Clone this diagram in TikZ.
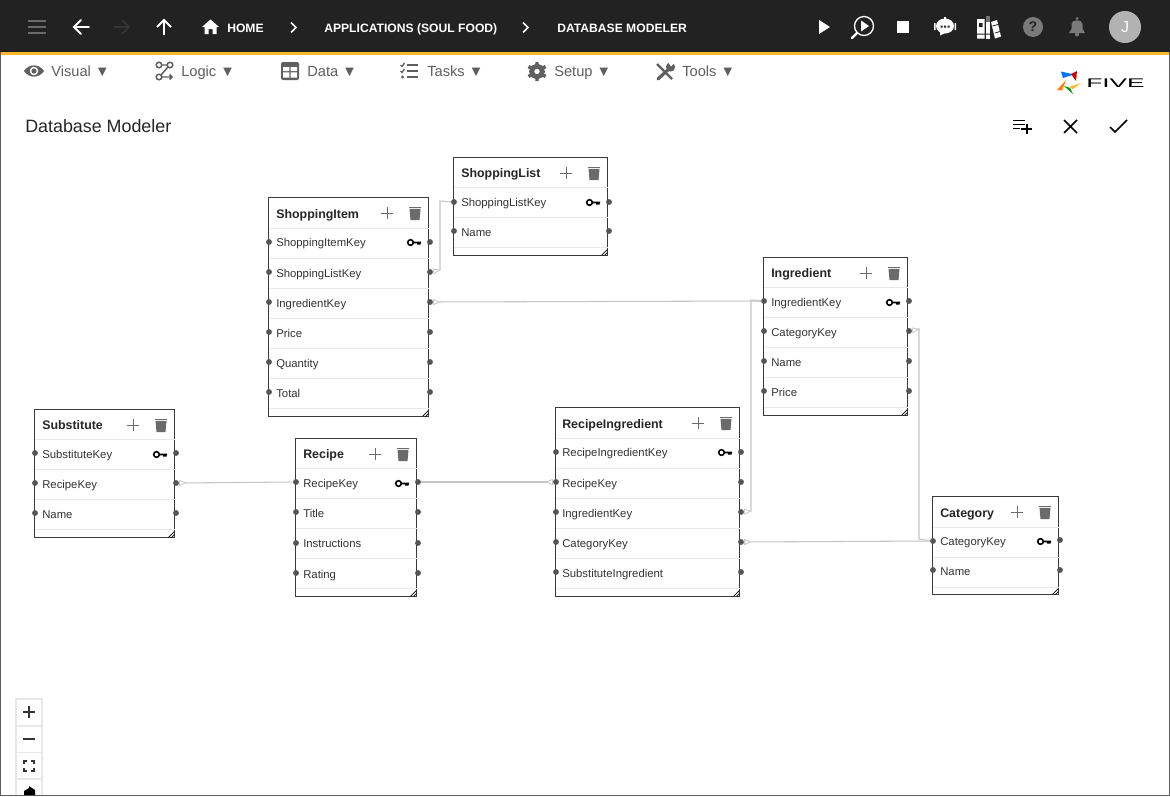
\documentclass[tikz,border=0pt]{standalone}
\usepackage{xcolor}
\usepackage{fontspec}
\setmainfont{Liberation Sans}
\usetikzlibrary{arrows.meta}
\definecolor{barcolor}{HTML}{222222}
\definecolor{accentcolor}{HTML}{FBB829}
\definecolor{menucolor}{HTML}{5F5F5F}
\definecolor{iconcolor}{HTML}{6B6B6B}
\definecolor{edgecolor}{HTML}{3A3A3A}
\definecolor{rowcolor}{HTML}{E8E8E8}
\definecolor{relcolor}{HTML}{C6C6C8}
\definecolor{portcolor}{HTML}{555555}
\tikzset{
  tablebox/.style={draw=edgecolor, line width=0.7pt, fill=white, rectangle, inner sep=0pt},
  titletext/.style={anchor=west, inner sep=0pt, text height=8.3pt, text depth=1.5pt, text=black!85, font=\fontsize{9.3pt}{11pt}\selectfont\bfseries},
  fieldtext/.style={anchor=west, inner sep=0pt, text height=7.5pt, text depth=1.5pt, text=black!80, font=\fontsize{8.5pt}{10pt}\selectfont},
  navtext/.style={anchor=west, inner sep=0pt, text height=8.3pt, text depth=1.5pt, text=white, font=\fontsize{9.1pt}{12pt}\selectfont\bfseries},
  menutext/.style={anchor=west, inner sep=0pt, text height=9pt, text depth=1.5pt, text=menucolor, font=\fontsize{11pt}{13pt}\selectfont},
  port/.style={circle, fill=portcolor, inner sep=0pt, minimum size=4.4pt},
  rowline/.style={draw=rowcolor, line width=0.75pt},
  headline/.style={draw=rowcolor, line width=1.3pt},
  relline/.style={draw=relcolor, line width=0.8pt},
  crowfoot/.style={{Triangle[open, reversed, length=5.5pt, width=4.5pt, line width=0.6pt]}-},
  navicon/.style={draw=white, line width=1.4pt},
  plusmark/.pic={\draw[iconcolor, line width=0.75pt] (-6,0) -- (6,0) (0,-6) -- (0,6);},
  trashmark/.pic={\fill[iconcolor] (-5.5,-4) -- (5.5,-4) -- (4.5,7) -- (-4.5,7) -- cycle (-6,-6) rectangle (6,-4.8);},
  keymark/.pic={\draw[black, line width=1.2pt] (-3.5,0.5) circle (2.8); \fill[black] (-0.7,-0.3) rectangle (7,1.3) (3,1.3) rectangle (6.5,2.6);},
  gripmark/.pic={\draw[black, line width=0.5pt] (-6.5,-0.7) -- (-0.7,-6.5) (-3.5,-0.7) -- (-0.7,-3.5);},
}

\begin{document}
\begin{tikzpicture}[x=0.75pt, y=-0.75pt]%
\useasboundingbox (0,0) rectangle (1170,796);%
\fill[white] (0,0) rectangle (1170,796);%
% window
\fill[barcolor] (0,0) rectangle (1170,52);%
\fill[accentcolor] (0,52) rectangle (1170,55);%
\draw[menucolor, line width=1pt] (0.5,52) -- (0.5,795.5) -- (1169.5,795.5) -- (1169.5,52);%
% top bar
\draw[iconcolor, line width=1.3pt] (28,21) -- (46,21) (28,27) -- (46,27) (28,33) -- (46,33);%
\draw[navicon, line cap=round] (89,27) -- (74,27) (81,20) -- (74,27) -- (81,34);%
\draw[black!45!barcolor!85!white, line width=1.2pt] (114,27) -- (129,27) (122,20) -- (129,27) -- (122,34);%
\draw[navicon] (164,35) -- (164,20) (157,27) -- (164,20) -- (171,27);%
\fill[white] (210.5,19.5) -- (219,27) -- (216.5,27) -- (216.5,34) -- (212.5,34) -- (212.5,29) -- (208.5,29) -- (208.5,34) -- (204.5,34) -- (204.5,27) -- (202,27) -- cycle;%
\node[navtext] (home) at (227,27.5) {HOME};%
\draw[white, line width=1.1pt] (291,22.5) -- (296,27.5) -- (291,32.5);%
\node[navtext] (apps) at (324,27.5) {APPLICATIONS (SOUL FOOD)};%
\draw[white, line width=1.1pt] (523,22.5) -- (528,27.5) -- (523,32.5);%
\node[navtext] (modeler) at (557,27.5) {DATABASE MODELER};%
\fill[white] (819,20) -- (830,27) -- (819,34) -- cycle;%
\draw[white, line width=1pt] (864,26) circle (9.5);%
\draw[white, line width=1.8pt, line cap=round] (857,33) -- (852,38);%
\fill[white] (861,20.5) -- (869,26) -- (861,31.5) -- cycle;%
\fill[white] (897,21) rectangle (909,33);%
\fill[white] (945,26) ellipse (9 and 7.5);%
\fill[white] (944,17) rectangle (946,20) (940,30) -- (947,32) -- (940,35.5) -- cycle;%
\fill[white] (934,23) rectangle (935.5,30) (954.5,23) rectangle (956,30);%
\fill[barcolor] (940.5,25.5) rectangle (942.5,27.5) (944,25.5) rectangle (946,27.5) (947.5,25.5) rectangle (949.5,27.5);%
\fill[white] (977,19) rectangle (984.5,38.5) (991,22) -- (997,20) -- (1001,36.5) -- (995,38.5) -- cycle;%
\fill[white] (985.5,22) rectangle (990,38.5);%
\fill[black!55] (985.5,15.5) rectangle (990,22);%
\fill[barcolor] (979,23) rectangle (982.5,27) (977,33.5) rectangle (990,34.5);%
\draw[barcolor, line width=0.6pt] (992.5,26) -- (998,24.5) (995,33) -- (1000,31.5);%
\fill[iconcolor!90] (1033,27) circle (10);%
\node[inner sep=0pt, text=barcolor, font=\fontsize{10.5pt}{12pt}\selectfont\bfseries] (helpmark) at (1033,27) {?};%
\fill[iconcolor!90] (1069,33) -- (1071.5,29) -- (1071.5,24) .. controls (1071.5,19) and (1082.5,19) .. (1082.5,24) -- (1082.5,29) -- (1085,33) -- cycle;%
\fill[iconcolor!90] (1077,18.5) circle (1.5) (1077,34.5) circle (2);%
\fill[black!30] (1125,27) circle (16);%
\node[inner sep=0pt, text=white, font=\fontsize{12pt}{14pt}\selectfont] (avatar) at (1125,27) {J};%
% menu row
\fill[menucolor] (24,71) .. controls (29,63.5) and (39,63.5) .. (44,71) .. controls (39,78.5) and (29,78.5) .. (24,71) -- cycle;%
\fill[white] (34,71) circle (4.3);%
\fill[menucolor] (34,71) circle (2.6);%
\node[menutext] (visual) at (51,71) {Visual ▼};%
\draw[menucolor, line width=1.1pt] (159,65) circle (2.8) (170,65) circle (2.8) (159,77) circle (2.8) (161.8,65) -- (167.2,65) (168,67) -- (161,75) (162,77) -- (172,77) (169.5,74.5) -- (172,77) -- (169.5,79.5);%
\node[menutext] (logic) at (181,71) {Logic ▼};%
\fill[menucolor, rounded corners=1.5pt] (281,62) rectangle (299,80);%
\fill[white] (283,67) rectangle (289.3,71) (290.7,67) rectangle (297,71) (283,72.4) rectangle (289.3,77.5) (290.7,72.4) rectangle (297,77.5);%
\node[menutext] (data) at (307,71) {Data ▼};%
\draw[menucolor, line width=1.3pt] (407,65) -- (418,65) (407,71) -- (418,71) (407,77) -- (418,77);%
\draw[menucolor, line width=1pt] (400.5,65) -- (402,66.5) -- (404.5,63) (400.5,71) -- (402,72.5) -- (404.5,69);%
\fill[menucolor] (402.5,77) circle (1.6);%
\node[menutext] (tasks) at (427,71) {Tasks ▼};%
\draw[menucolor, line width=3.6pt] (537,71.5) circle (5.4);%
\draw[menucolor, line width=2.6pt] (537,62) -- (537,65) (537,78) -- (537,81) (528.5,66.5) -- (531,68) (543,75) -- (545.5,76.5) (528.5,76.5) -- (531,75) (543,68) -- (545.5,66.5);%
\node[menutext] (setup) at (554,71) {Setup ▼};%
\draw[menucolor, line width=1.8pt] (657,64) -- (672,79);%
\draw[menucolor, line width=2.4pt, line cap=round] (670,68) -- (658,79);%
\fill[menucolor] (670.5,67) circle (4.6);%
\fill[white] (671,66.5) -- (677,60) -- (667,60.5) -- cycle;%
\node[menutext] (tools) at (682,71) {Tools ▼};%
% logo
\fill[blue!55!cyan] (1061,71.5) -- (1074,74.5) -- (1063,78) -- cycle;%
\fill[red!80!black] (1077,71) -- (1076,81) -- (1071,74) -- cycle;%
\fill[accentcolor] (1081,83) -- (1069,87) -- (1073,89) -- cycle;%
\fill[green!60!black] (1073,94) -- (1064,86) -- (1070,88) -- cycle;%
\fill[orange] (1057,90) -- (1066,80) -- (1062,90.5) -- cycle;%
\node[inner sep=0pt, xscale=2.1, text=black, font=\fontsize{9.4pt}{11pt}\selectfont] (logo) at (1115.5,83) {FIVE};%
% page head
\node[anchor=west, inner sep=0pt, text=black!85, font=\fontsize{13.4pt}{16pt}\selectfont] (pagetitle) at (25,126) {Database Modeler};%
\draw[black, line width=1.1pt] (1013,120.5) -- (1025,120.5) (1013,124.5) -- (1025,124.5) (1013,128.5) -- (1020,128.5) (1020.5,129) -- (1032,129) (1027,124) -- (1027,134);%
\draw[black, line width=1.2pt] (1064,120) -- (1077,133) (1077,120) -- (1064,133);%
\draw[black, line width=1.2pt] (1110,127) -- (1115,132) -- (1127,120);%
% ShoppingList
\node[tablebox, minimum width=115.5pt, minimum height=73.5pt] (list) at (530.5,206.5) {};%
\node[titletext] (listtitle) at (461,173) {ShoppingList};%
\draw pic at (566,173) {plusmark} pic at (594,173) {trashmark} pic at (593,202) {keymark} pic at (608,256) {gripmark};%
\draw[headline] (454,187.5) -- (608,187.5) (454,247.5) -- (608,247.5);%
\draw[rowline] (454,217.5) -- (608,217.5);%
\node[fieldtext] (list1) at (461,202) {ShoppingListKey};%
\node[fieldtext] (list2) at (461,232) {Name};%
\node[port] (list1l) at (454,202) {};\node[port] (list1r) at (609,202) {};%
\node[port] (list2l) at (454,231) {};\node[port] (list2r) at (609,231) {};%
% ShoppingItem
\node[tablebox, minimum width=120pt, minimum height=164.25pt] (item) at (348.5,307) {};%
\node[titletext] (itemtitle) at (276,214) {ShoppingItem};%
\draw pic at (387,213) {plusmark} pic at (415,213) {trashmark} pic at (414,242) {keymark} pic at (429,417) {gripmark};%
\draw[headline] (269,228.5) -- (429,228.5) (269,408.5) -- (429,408.5);%
\draw[rowline] (269,258.5) -- (429,258.5) (269,288.5) -- (429,288.5) (269,318.5) -- (429,318.5) (269,348.5) -- (429,348.5) (269,378.5) -- (429,378.5);%
\node[fieldtext] (item1) at (276,242) {ShoppingItemKey};%
\node[fieldtext] (item2) at (276,273) {ShoppingListKey};%
\node[fieldtext] (item3) at (276,303) {IngredientKey};%
\node[fieldtext] (item4) at (276,333) {Price};%
\node[fieldtext] (item5) at (276,363) {Quantity};%
\node[fieldtext] (item6) at (276,393) {Total};%
\node[port] (item1l) at (269,242) {};\node[port] (item1r) at (430,242) {};%
\node[port] (item2l) at (269,272) {};\node[port] (item2r) at (430,272) {};%
\node[port] (item3l) at (269,302) {};\node[port] (item3r) at (430,302) {};%
\node[port] (item4l) at (269,332) {};\node[port] (item4r) at (430,332) {};%
\node[port] (item5l) at (269,362) {};\node[port] (item5r) at (430,362) {};%
\node[port] (item6l) at (269,392) {};\node[port] (item6r) at (430,392) {};%
% Ingredient
\node[tablebox, minimum width=108pt, minimum height=118.5pt] (ingr) at (835.5,336.5) {};%
\node[titletext] (ingrtitle) at (771,273) {Ingredient};%
\draw pic at (866,273) {plusmark} pic at (894,273) {trashmark} pic at (893,302) {keymark} pic at (908,416) {gripmark};%
\draw[headline] (764,287.5) -- (908,287.5) (764,407.5) -- (908,407.5);%
\draw[rowline] (764,317.5) -- (908,317.5) (764,347.5) -- (908,347.5) (764,377.5) -- (908,377.5);%
\node[fieldtext] (ingr1) at (771,302) {IngredientKey};%
\node[fieldtext] (ingr2) at (771,332) {CategoryKey};%
\node[fieldtext] (ingr3) at (771,362) {Name};%
\node[fieldtext] (ingr4) at (771,392) {Price};%
\node[port] (ingr1l) at (764,301) {};\node[port] (ingr1r) at (909,301) {};%
\node[port] (ingr2l) at (764,331) {};\node[port] (ingr2r) at (909,331) {};%
\node[port] (ingr3l) at (764,361) {};\node[port] (ingr3r) at (909,361) {};%
\node[port] (ingr4l) at (764,391) {};\node[port] (ingr4r) at (909,391) {};%
% Substitute
\node[tablebox, minimum width=105pt, minimum height=96pt] (subs) at (104.5,473.5) {};%
\node[titletext] (substitle) at (42,425) {Substitute};%
\draw pic at (133,425) {plusmark} pic at (161,425) {trashmark} pic at (160,454) {keymark} pic at (175,538) {gripmark};%
\draw[headline] (35,439.5) -- (175,439.5) (35,529.5) -- (175,529.5);%
\draw[rowline] (35,469.5) -- (175,469.5) (35,499.5) -- (175,499.5);%
\node[fieldtext] (subs1) at (42,454) {SubstituteKey};%
\node[fieldtext] (subs2) at (42,484) {RecipeKey};%
\node[fieldtext] (subs3) at (42,514) {Name};%
\node[port] (subs1l) at (35,453) {};\node[port] (subs1r) at (176,453) {};%
\node[port] (subs2l) at (35,483) {};\node[port] (subs2r) at (176,483) {};%
\node[port] (subs3l) at (35,513) {};\node[port] (subs3r) at (176,513) {};%
% Recipe
\node[tablebox, minimum width=90.75pt, minimum height=118.5pt] (reci) at (356,517.5) {};%
\node[titletext] (recititle) at (303,454) {Recipe};%
\draw pic at (375,454) {plusmark} pic at (403,454) {trashmark} pic at (402,483) {keymark} pic at (417,597) {gripmark};%
\draw[headline] (296,468.5) -- (417,468.5) (296,588.5) -- (417,588.5);%
\draw[rowline] (296,498.5) -- (417,498.5) (296,528.5) -- (417,528.5) (296,558.5) -- (417,558.5);%
\node[fieldtext] (reci1) at (303,483) {RecipeKey};%
\node[fieldtext] (reci2) at (303,513) {Title};%
\node[fieldtext] (reci3) at (303,543) {Instructions};%
\node[fieldtext] (reci4) at (303,574) {Rating};%
\node[port] (reci1l) at (296,482) {};\node[port] (reci1r) at (418,482) {};%
\node[port] (reci2l) at (296,512) {};\node[port] (reci2r) at (418,512) {};%
\node[port] (reci3l) at (296,543) {};\node[port] (reci3r) at (418,543) {};%
\node[port] (reci4l) at (296,573) {};\node[port] (reci4r) at (418,573) {};%
% RecipeIngredient
\node[tablebox, minimum width=138pt, minimum height=141.75pt] (part) at (647.5,502) {};%
\node[titletext] (parttitle) at (562,424) {RecipeIngredient};%
\draw pic at (698,423) {plusmark} pic at (726,423) {trashmark} pic at (725,452) {keymark} pic at (740,597) {gripmark};%
\draw[headline] (556,438.5) -- (740,438.5) (556,588.5) -- (740,588.5);%
\draw[rowline] (556,468.5) -- (740,468.5) (556,498.5) -- (740,498.5) (556,528.5) -- (740,528.5) (556,558.5) -- (740,558.5);%
\node[fieldtext] (part1) at (562,452) {RecipeIngredientKey};%
\node[fieldtext] (part2) at (562,483) {RecipeKey};%
\node[fieldtext] (part3) at (562,513) {IngredientKey};%
\node[fieldtext] (part4) at (562,543) {CategoryKey};%
\node[fieldtext] (part5) at (562,573) {SubstituteIngredient};%
\node[port] (part1l) at (556,452) {};\node[port] (part1r) at (741,452) {};%
\node[port] (part2l) at (556,482) {};\node[port] (part2r) at (741,482) {};%
\node[port] (part3l) at (556,512) {};\node[port] (part3r) at (741,512) {};%
\node[port] (part4l) at (556,542) {};\node[port] (part4r) at (741,542) {};%
\node[port] (part5l) at (556,572) {};\node[port] (part5r) at (741,572) {};%
% Category
\node[tablebox, minimum width=94.5pt, minimum height=73.5pt] (cate) at (995.5,545.5) {};%
\node[titletext] (catetitle) at (940,513) {Category};%
\draw pic at (1017,512) {plusmark} pic at (1045,512) {trashmark} pic at (1044,541) {keymark} pic at (1059,595) {gripmark};%
\draw[headline] (933,527.5) -- (1059,527.5) (933,587.5) -- (1059,587.5);%
\draw[rowline] (933,557.5) -- (1059,557.5);%
\node[fieldtext] (cate1) at (940,541) {CategoryKey};%
\node[fieldtext] (cate2) at (940,571) {Name};%
\node[port] (cate1l) at (933,541) {};\node[port] (cate1r) at (1060,540) {};%
\node[port] (cate2l) at (933,570) {};\node[port] (cate2r) at (1060,570) {};%
% relations
\coordinate (listbenda) at (440,270);%
\coordinate (listbendb) at (440,201);%
\coordinate (ingrbenda) at (751,511);%
\coordinate (ingrbendb) at (751,300);%
\coordinate (catebenda) at (919,329);%
\coordinate (catebendb) at (919,539);%
\draw[relline, crowfoot] (item2r) -- (listbenda) -- (listbendb) -- (list1l);%
\draw[relline, crowfoot] (item3r) -- (ingr1l);%
\draw[relline, crowfoot] (part3r) -- (ingrbenda) -- (ingrbendb) -- (ingr1l);%
\draw[relline, crowfoot] (ingr2r) -- (catebenda) -- (catebendb) -- (cate1l);%
\draw[relline, crowfoot] (part4r) -- (cate1l);%
\draw[relline, crowfoot] (subs2r) -- (reci1l);%
\draw[relline, crowfoot] (part2l) -- (reci1r);%
% zoom buttons
\draw[rowcolor, line width=0.8pt] (16,795) -- (16,699) -- (42,699) -- (42,795) (16,726) -- (42,726) (16,752.5) -- (42,752.5) (16,779) -- (42,779);%
\draw[black!80, line width=1.1pt] (23,712) -- (35,712) (29,706) -- (29,718) (23,739) -- (35,739);%
\draw[black!80, line width=1pt] (24,764) -- (24,761) -- (27,761) (31,761) -- (34,761) -- (34,764) (34,768) -- (34,771) -- (31,771) (27,771) -- (24,771) -- (24,768);%
\fill[black] (24,795) -- (24,791) -- (29,788) -- (29,786) -- (35,790) -- (35,795) -- cycle;%
\end{tikzpicture}
\end{document}
